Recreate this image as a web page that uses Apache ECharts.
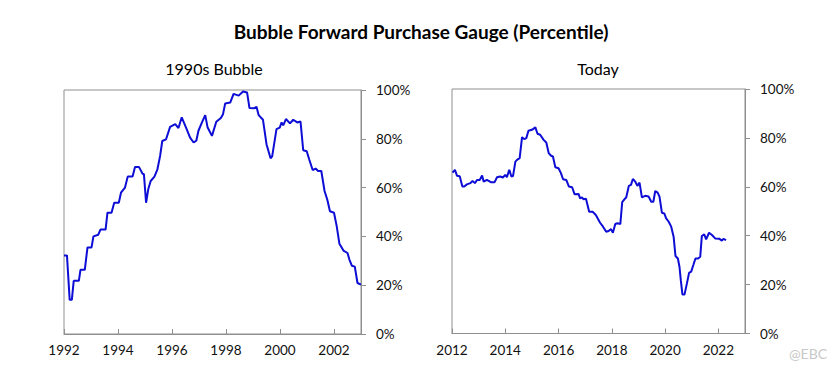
<!DOCTYPE html>
<html><head><meta charset="utf-8">
<script src="https://cdn.jsdelivr.net/npm/echarts@6/dist/echarts.min.js"></script>
<style>html,body{margin:0;padding:0;background:#fff}#c{width:840px;height:380px}</style>
</head><body><div id="c"></div>
<script>
const mainTitle = 'Bubble Forward Purchase Gauge (Percentile)';
const leftTitle = '1990s Bubble';
const rightTitle = 'Today';
const watermark = '@EBC';

const years1990s = [1992.00,1992.11,1992.21,1992.29,1992.36,1992.55,1992.61,1992.77,1992.87,1993.02,1993.09,1993.27,1993.35,1993.54,1993.61,1993.76,1993.86,1994.03,1994.11,1994.26,1994.36,1994.54,1994.63,1994.78,1994.91,1994.96,1995.04,1995.12,1995.21,1995.35,1995.46,1995.56,1995.64,1995.78,1995.93,1996.12,1996.24,1996.36,1996.52,1996.67,1996.80,1996.90,1996.98,1997.11,1997.23,1997.32,1997.48,1997.64,1997.81,1997.89,1997.97,1998.16,1998.28,1998.47,1998.63,1998.78,1998.87,1999.03,1999.13,1999.21,1999.37,1999.50,1999.65,1999.71,1999.87,1999.99,2000.06,2000.12,2000.22,2000.37,2000.49,2000.64,2000.76,2000.86,2000.99,2001.08,2001.21,2001.32,2001.41,2001.53,2001.65,2001.75,2001.85,2002.00,2002.10,2002.20,2002.35,2002.50,2002.57,2002.66,2002.77,2002.87,2003.00];
const values1990s = [32.2,32.2,14.0,14.0,21.8,21.8,26.3,26.3,35.5,35.5,40.0,40.7,42.8,42.8,49.7,49.7,53.8,53.8,57.9,60.0,64.5,64.5,68.4,68.4,65.7,65.5,53.8,59.3,62.7,64.5,67.5,73.0,79.1,79.8,84.9,86.0,84.4,88.8,84.6,80.5,78.5,79.2,83.3,86.7,89.7,84.6,81.2,87.0,88.5,90.1,94.5,94.9,98.4,97.7,99.4,99.0,92.6,92.5,93.1,89.7,87.8,77.8,72.0,72.8,84.0,84.6,86.7,85.5,88.1,86.3,87.8,86.7,87.1,75.3,74.9,71.6,67.2,67.8,66.8,66.8,58.6,55.1,50.3,49.7,44.2,37.0,34.2,33.2,30.5,28.0,27.6,20.9,20.2];

const yearsToday = [2012.02,2012.11,2012.19,2012.29,2012.39,2012.46,2012.56,2012.69,2012.77,2012.86,2012.94,2013.04,2013.13,2013.19,2013.31,2013.46,2013.60,2013.69,2013.81,2013.91,2014.00,2014.06,2014.15,2014.23,2014.29,2014.38,2014.44,2014.54,2014.63,2014.71,2014.79,2014.87,2015.00,2015.13,2015.21,2015.31,2015.44,2015.54,2015.63,2015.72,2015.79,2015.88,2016.00,2016.09,2016.17,2016.29,2016.39,2016.51,2016.60,2016.75,2016.81,2016.88,2016.94,2017.03,2017.15,2017.28,2017.40,2017.56,2017.67,2017.79,2017.88,2017.97,2018.04,2018.13,2018.21,2018.32,2018.39,2018.48,2018.54,2018.64,2018.72,2018.79,2018.88,2018.96,2019.04,2019.13,2019.25,2019.38,2019.48,2019.56,2019.63,2019.72,2019.79,2019.88,2019.97,2020.04,2020.13,2020.23,2020.32,2020.39,2020.48,2020.54,2020.59,2020.65,2020.73,2020.82,2020.90,2020.98,2021.07,2021.14,2021.24,2021.32,2021.38,2021.47,2021.54,2021.65,2021.76,2021.88,2022.03,2022.13,2022.19,2022.29];
const valuesToday = [65.8,66.9,64.5,64.3,60.1,60.1,61.0,61.5,62.4,61.5,62.8,62.8,64.6,62.1,62.8,61.9,61.9,63.9,64.2,63.8,64.9,63.9,66.9,64.2,64.4,70.3,71.0,71.7,80.3,79.5,79.9,82.9,83.3,84.3,81.7,81.3,79.2,78.1,73.8,72.7,72.4,68.0,67.6,65.6,63.1,62.8,60.1,59.8,57.0,57.1,55.3,55.7,54.9,55.1,49.8,49.8,48.5,45.3,43.7,41.6,41.9,42.7,41.2,44.8,45.1,44.8,53.7,55.0,55.6,60.4,60.8,63.2,62.1,60.4,61.7,55.7,56.3,56.0,53.9,53.9,58.3,57.6,56.0,49.4,49.1,47.1,45.8,43.7,39.6,31.7,30.7,27.3,21.8,16.0,16.0,20.5,24.8,25.3,28.3,30.7,30.7,31.4,39.9,40.6,38.5,41.2,40.3,38.9,38.8,38.0,38.7,38.2];

const yTicks = [0, 20, 40, 60, 80, 100];

const FONT = 'Lato, "Open Sans", sans-serif';
const axisGrey = '#8f8f8f';
const lineBlue = '#0d0dd6';

function xAxisFor(idx, minY, maxY) {
  return {
    type: 'value', gridIndex: idx, min: minY, max: maxY, interval: 2,
    axisLine: { show: true, lineStyle: { color: axisGrey, width: 1 } },
    axisTick: { show: true, inside: true, length: 5, lineStyle: { color: axisGrey } },
    axisLabel: {
      color: '#111', fontFamily: FONT, fontSize: 13.5, margin: 9,
      formatter: v => (Math.round(v) % 2 === 0 && Math.abs(v - Math.round(v)) < 1e-6 && v < maxY) ? String(Math.round(v)) : ''
    },
    splitLine: { show: false }
  };
}
function yAxisFor(idx) {
  return {
    type: 'value', gridIndex: idx, position: 'right', min: yTicks[0], max: yTicks[yTicks.length - 1], interval: 20,
    axisLine: { show: true, lineStyle: { color: axisGrey, width: 1 } },
    axisTick: { show: true, inside: false, length: 5, lineStyle: { color: axisGrey } },
    axisLabel: { color: '#111', fontFamily: FONT, fontSize: 13.5, margin: 15, formatter: v => v + '%' },
    splitLine: { show: false }
  };
}

const chart = echarts.init(document.getElementById('c'), null, { renderer: 'svg' });
chart.setOption({
  animation: false,
  backgroundColor: '#fff',
  graphic: [
    { type: 'text', x: 421, y: 31, style: { text: mainTitle, fill: '#000', font: 'bold 19px ' + FONT, align: 'center', verticalAlign: 'middle' } },
    { type: 'text', x: 214, y: 68, style: { text: leftTitle, fill: '#000', font: '16px ' + FONT, align: 'center', verticalAlign: 'middle' } },
    { type: 'text', x: 598, y: 68, style: { text: rightTitle, fill: '#000', font: '16px ' + FONT, align: 'center', verticalAlign: 'middle' } },
    { type: 'text', x: 808, y: 353, style: { text: watermark, fill: '#c8c8c8', font: '14px ' + FONT, align: 'center', verticalAlign: 'middle' } }
  ],
  grid: [
    { left: 64, top: 90, width: 297, height: 244, show: true, borderColor: axisGrey, borderWidth: 1, backgroundColor: 'transparent' },
    { left: 452, top: 89, width: 293, height: 244.5, show: true, borderColor: axisGrey, borderWidth: 1, backgroundColor: 'transparent' }
  ],
  xAxis: [xAxisFor(0, 1992, 2003), xAxisFor(1, 2012, 2023)],
  yAxis: [yAxisFor(0), yAxisFor(1)],
  series: [
    { type: 'line', xAxisIndex: 0, yAxisIndex: 0, showSymbol: false, symbol: 'none',
      lineStyle: { color: lineBlue, width: 2 }, data: years1990s.map((y, i) => [y, values1990s[i]]) },
    { type: 'line', xAxisIndex: 1, yAxisIndex: 1, showSymbol: false, symbol: 'none',
      lineStyle: { color: lineBlue, width: 2 }, data: yearsToday.map((y, i) => [y, valuesToday[i]]) }
  ]
});
</script>
</body></html>
